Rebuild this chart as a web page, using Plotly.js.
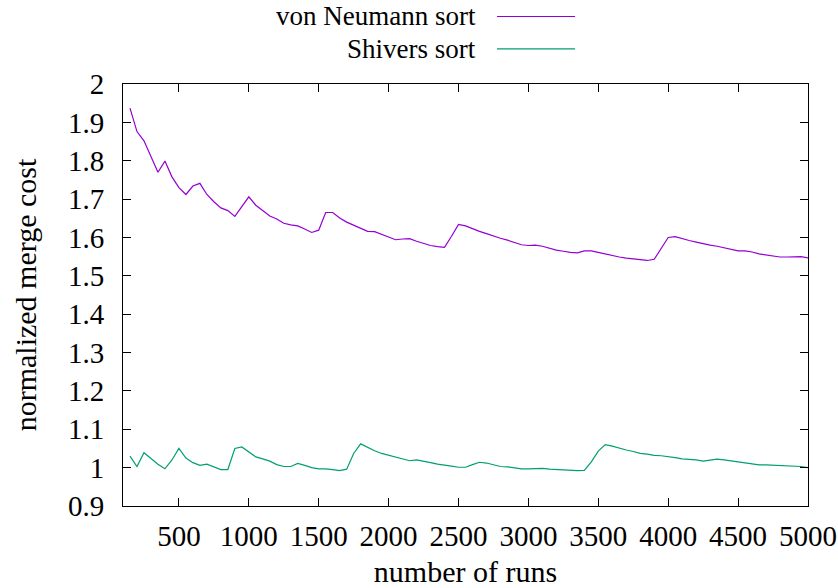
<!DOCTYPE html>
<html>
<head>
<meta charset="utf-8">
<script src="https://cdn.plot.ly/plotly-3.0.1.min.js"></script>
<style>
html,body{margin:0;padding:0;background:#fff;}
#chart{width:838px;height:588px;}
</style>
</head>
<body>
<div id="chart"></div>
<script>
// number of runs (x values)
const runs = [150,200,250,300,350,400,450,500,550,600,650,700,750,800,850,900,950,1000,
1050,1100,1150,1200,1250,1300,1350,1400,1450,1500,1550,1600,1650,1700,1750,1800,1850,1900,
1950,2000,2050,2100,2150,2200,2250,2300,2350,2400,2450,2500,2550,2600,2650,2700,2750,2800,
2850,2900,2950,3000,3050,3100,3150,3200,3250,3300,3350,3400,3450,3500,3550,3600,3650,3700,
3750,3800,3850,3900,3950,4000,4050,4100,4150,4200,4250,4300,4350,4400,4450,4500,4550,4600,
4650,4700,4750,4800,4850,4900,4950,5000];

const vonNeumann = [1.937,1.876,1.852,1.811,1.770,1.799,1.758,1.730,1.712,1.734,1.741,1.712,
1.693,1.677,1.670,1.655,1.681,1.706,1.684,1.669,1.656,1.648,1.637,1.633,1.630,1.622,1.613,
1.619,1.665,1.665,1.651,1.640,1.632,1.624,1.616,1.615,1.608,1.600,1.594,1.596,1.597,1.590,
1.584,1.579,1.576,1.574,1.603,1.634,1.630,1.622,1.616,1.610,1.603,1.598,1.593,1.587,1.581,
1.579,1.580,1.577,1.571,1.567,1.564,1.561,1.560,1.565,1.565,1.561,1.556,1.553,1.549,1.546,
1.544,1.543,1.540,1.543,1.571,1.600,1.602,1.596,1.592,1.588,1.583,1.580,1.577,1.573,1.568,
1.565,1.565,1.562,1.557,1.554,1.551,1.549,1.549,1.550,1.550,1.547];

const shivers = [1.030,1.003,1.039,1.023,1.009,0.997,1.020,1.050,1.025,1.013,1.006,1.009,
1.002,0.995,0.995,1.050,1.054,1.041,1.028,1.023,1.017,1.008,1.003,1.003,1.011,1.006,1.000,
0.997,0.997,0.995,0.992,0.996,1.037,1.062,1.052,1.044,1.037,1.032,1.026,1.022,1.018,1.020,
1.017,1.013,1.009,1.007,1.004,1.001,1.001,1.008,1.014,1.012,1.007,1.003,1.002,0.999,0.997,
0.997,0.998,0.998,0.996,0.995,0.994,0.993,0.992,0.993,1.015,1.043,1.060,1.056,1.050,1.046,
1.042,1.037,1.035,1.032,1.031,1.029,1.026,1.023,1.022,1.020,1.017,1.019,1.022,1.020,1.017,
1.015,1.012,1.010,1.007,1.007,1.006,1.005,1.004,1.003,1.003,1.000];

const seriesNames = ["von Neumann sort", "Shivers sort"];
const seriesColors = ["#9400d3", "#009e73"];
const xTicks = [500,1000,1500,2000,2500,3000,3500,4000,4500,5000];
const yTicks = [0.9,1,1.1,1.2,1.3,1.4,1.5,1.6,1.7,1.8,1.9,2];

const FONT = "Liberation Serif";
const TICK_FS = 29;
const TEXT_FS = 30;
const LEGEND_FS = 27;

const traces = [vonNeumann, shivers].map((ys, i) => ({
  x: runs, y: ys, type: "scatter", mode: "lines", name: seriesNames[i],
  line: {color: seriesColors[i], width: 1.2}, showlegend: false
}));

// legend drawn gnuplot-style: right-aligned text with sample line on the right
const legendY = [1.160, 1.083];
const annotations = seriesNames.map((n, i) => ({
  xref: "paper", yref: "paper", x: 0.517, y: legendY[i], xanchor: "right", yanchor: "middle",
  text: n, showarrow: false, borderpad: 0, font: {family: FONT, size: LEGEND_FS, color: "#000"}
}));
const shapes = seriesColors.map((c, i) => ({
  type: "line", xref: "paper", yref: "paper", x0: 0.546, x1: 0.660, y0: legendY[i], y1: legendY[i],
  line: {color: c, width: 1.2}
}));

const axisCommon = {
  showline: true, linecolor: "#000", linewidth: 1, mirror: "allticks",
  ticks: "inside", ticklen: 8, tickcolor: "#000", tickwidth: 1,
  showgrid: false, zeroline: false,
  tickfont: {family: FONT, size: TICK_FS, color: "#000"}
};

const layout = {
  width: 838, height: 588,
  margin: {l: 123, r: 30, t: 84, b: 82},
  paper_bgcolor: "#fff", plot_bgcolor: "#fff",
  font: {family: FONT, color: "#000"},
  xaxis: Object.assign({}, axisCommon, {
    range: [100, 5000], tickvals: xTicks, ticktext: xTicks.map(String),
    ticklabelstandoff: 4,
    title: {text: "number of runs", font: {family: FONT, size: TEXT_FS, color: "#000"}, standoff: 17}
  }),
  yaxis: Object.assign({}, axisCommon, {
    range: [0.9, 2], tickvals: yTicks, ticktext: yTicks.map(String),
    ticklabelstandoff: 12,
    title: {text: "normalized merge cost", font: {family: FONT, size: TEXT_FS, color: "#000"}, standoff: 22}
  }),
  annotations: annotations,
  shapes: shapes
};

Plotly.newPlot("chart", traces, layout, {staticPlot: true, displayModeBar: false});
</script>
</body>
</html>
